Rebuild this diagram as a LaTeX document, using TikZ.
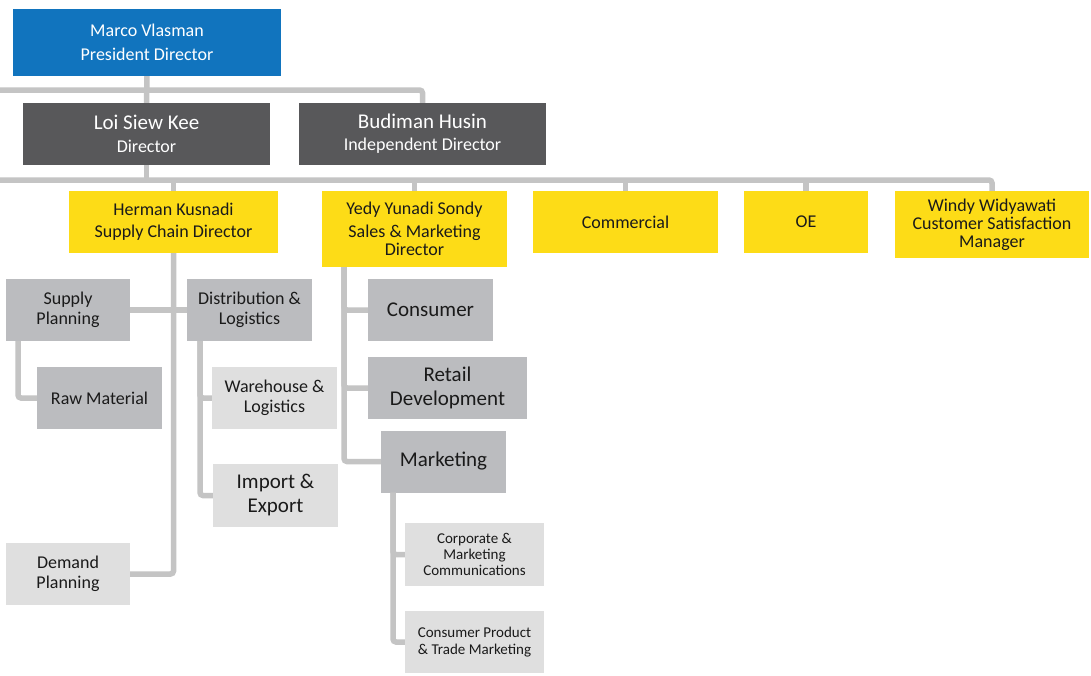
\documentclass[tikz,border=0pt]{standalone}
\usepackage{fontspec}
\setmainfont{Carlito}
\definecolor{cblue}{HTML}{1174BE}
\definecolor{cdark}{HTML}{58585A}
\definecolor{cyellow}{HTML}{FDDC17}
\definecolor{cmid}{HTML}{BBBCBF}
\definecolor{clight}{HTML}{DFDFDF}
\definecolor{cline}{HTML}{C4C4C4}
\definecolor{ctext}{HTML}{1A1A1A}
\begin{document}
\begin{tikzpicture}[x=1pt,y=-1pt,
  box/.style={inner sep=0pt, align=center, text=ctext},
  bluebox/.style={box, fill=cblue, text=white},
  darkbox/.style={box, fill=cdark, text=white},
  yelbox/.style={box, fill=cyellow},
  midbox/.style={box, fill=cmid},
  lightbox/.style={box, fill=clight},
  conn/.style={draw=cline, line width=5.5pt, rounded corners=3pt},
  fA/.style={font=\fontsize{18}{23}\selectfont},
  fB/.style={font=\fontsize{18}{18}\selectfont},
  fC/.style={font=\fontsize{21}{24.5}\selectfont},
  fD/.style={font=\fontsize{15}{16.5}\selectfont},
  fS/.style={font=\fontsize{18}{19.5}\selectfont}]
\useasboundingbox (0,0) rectangle (1091,675);
\fill[white] (0,0) rectangle (1091,675);
% level 1
\node[bluebox,font=\fontsize{18}{24}\selectfont,minimum width=268pt,minimum height=67pt] (marco) at (147,42.5) {Marco Vlasman\\President Director};
% level 2
\node[darkbox,font=\fontsize{18}{23}\selectfont,minimum width=247pt,minimum height=62pt] (loi) at (146.5,134)
  {{\fontsize{21}{23}\selectfont Loi Siew Kee}\\Director};
\node[darkbox,font=\fontsize{18}{22}\selectfont,minimum width=247pt,minimum height=62pt] (bud) at (422.5,134)
  {{\fontsize{21}{22}\selectfont Budiman Husin}\\Independent Director};
% level 3
\node[yelbox,font=\fontsize{18}{22}\selectfont,minimum width=209pt,minimum height=62pt] (herman) at (173.5,222) {Herman Kusnadi\\Supply Chain Director};
\node[yelbox,fB,minimum width=185pt,minimum height=76pt] (yedy) at (414.5,229)
  {Yedy Yunadi Sondy\\[5pt]Sales \& Marketing\\Director};
\node[yelbox,fA,minimum width=185pt,minimum height=62pt] (comm) at (625.5,222) {Commercial};
\node[yelbox,fA,minimum width=124pt,minimum height=62pt] (oe) at (806,222) {OE};
\node[yelbox,fB,minimum width=194pt,minimum height=67pt] (windy) at (992,224.5) {Windy Widyawati\\Customer Satisfaction\\Manager};
% level 4
\node[midbox,fS,minimum width=124pt,minimum height=62pt] (supply) at (68,310) {Supply\\Planning};
\node[midbox,fS,minimum width=125pt,minimum height=62pt] (dist) at (249.5,310) {Distribution \&\\Logistics};
\node[midbox,fS,minimum width=125pt,minimum height=62pt] (raw) at (99.5,398) {Raw Material};
\node[midbox,fC,minimum width=125pt,minimum height=62pt] (consumer) at (430.5,310) {Consumer};
\node[midbox,fC,minimum width=159pt,minimum height=62pt] (retail) at (447.5,388) {Retail\\Development};
\node[midbox,fC,minimum width=125pt,minimum height=62pt] (mkt) at (443.5,461.5) {Marketing};
\node[lightbox,font=\fontsize{18}{20}\selectfont,minimum width=125pt,minimum height=62pt] (wh) at (274.5,398) {Warehouse \&\\Logistics};
\node[lightbox,font=\fontsize{21}{24}\selectfont,minimum width=125pt,minimum height=63pt] (imp) at (275.5,495.5) {Import \&\\Export};
\node[lightbox,fS,minimum width=124pt,minimum height=62pt] (demand) at (68,574) {Demand\\Planning};
\node[lightbox,font=\fontsize{15}{16}\selectfont,minimum width=139pt,minimum height=63pt] (corp) at (474.5,554.5) {Corporate \&\\Marketing\\Communications};
\node[lightbox,fD,minimum width=139pt,minimum height=62pt] (cprod) at (474.5,642) {Consumer Product\\\& Trade Marketing};
% connectors
\coordinate (l1) at (0,90);
\coordinate (l2) at (0,180);
\draw[conn] (marco.south) -- (loi.north);
\draw[conn] (l1) -| (bud.north);
\draw[conn] (loi.south) -- (loi.south |- l2);
\draw[conn] (l2) -| (windy.north);
\draw[conn] (herman.north) -- (herman.north |- l2);
\draw[conn] (yedy.north) -- (yedy.north |- l2);
\draw[conn] (comm.north) -- (comm.north |- l2);
\draw[conn] (oe.north) -- (oe.north |- l2);
\draw[conn] (herman.south) |- (demand.east);
\draw[conn] (supply.east) -- (dist.west);
\draw[conn] ([xshift=-50pt]supply.south) |- (raw.west);
\draw[conn] ([xshift=-49.5pt]dist.south) |- (wh.west);
\draw[conn] ([xshift=-49.5pt]dist.south) |- (imp.west);
\draw[conn] ([xshift=-70.5pt]yedy.south) |- (consumer.west);
\draw[conn] ([xshift=-70.5pt]yedy.south) |- (retail.west);
\draw[conn] ([xshift=-70.5pt]yedy.south) |- (mkt.west);
\draw[conn] ([xshift=-50.5pt]mkt.south) |- (corp.west);
\draw[conn] ([xshift=-50.5pt]mkt.south) |- (cprod.west);
\end{tikzpicture}
\end{document}
